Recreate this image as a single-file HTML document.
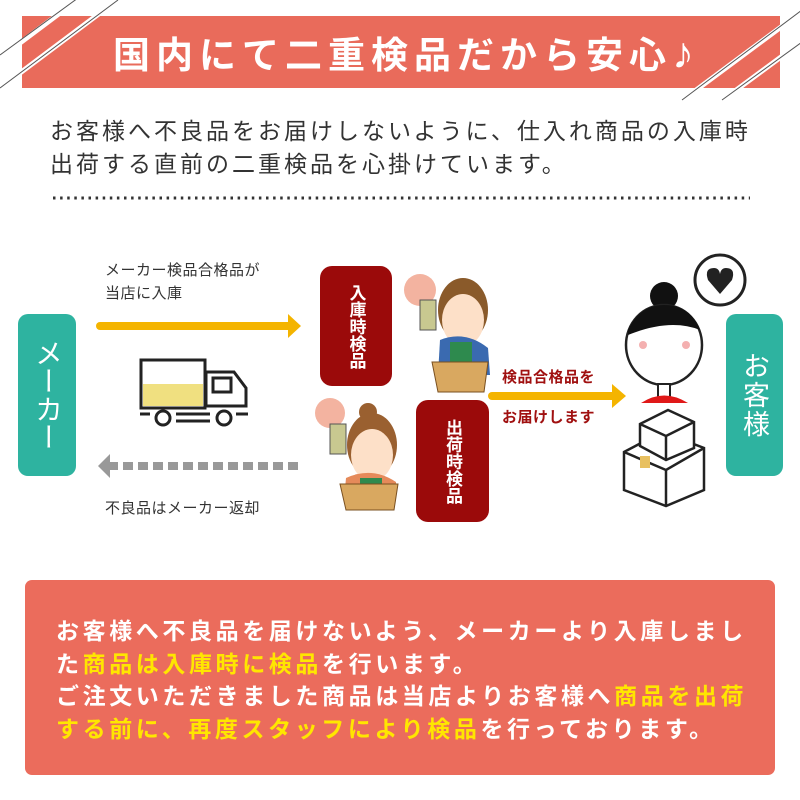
<!DOCTYPE html>
<html><head><meta charset="utf-8"><style>
*{margin:0;padding:0;box-sizing:border-box}
body{width:800px;height:800px;background:#fff;position:relative;overflow:hidden;font-family:"Liberation Sans","Noto Sans CJK JP",sans-serif}
.a{position:absolute;white-space:nowrap}
.vt{writing-mode:vertical-rl;text-orientation:upright;color:#fff;display:flex;align-items:center;justify-content:center}
.y{color:#ffe600}
</style></head><body>
<svg class="a" style="left:0;top:0" width="800" height="800">
<rect x="22" y="16" width="758" height="72" fill="#e96b5b"/>
<g stroke="#fff" stroke-width="5"><line x1="0" y1="58" x2="80" y2="-2"/><line x1="0" y1="88" x2="120" y2="-2"/><line x1="680" y1="102" x2="804" y2="10"/><line x1="720" y1="102" x2="804" y2="40"/></g>
<g stroke="#555" stroke-width="1"><line x1="0" y1="55" x2="78" y2="-2"/><line x1="0" y1="88" x2="118" y2="0"/><line x1="682" y1="100" x2="802" y2="10"/><line x1="722" y1="100" x2="802" y2="42"/></g>
<line x1="53" y1="198" x2="750" y2="198" stroke="#333" stroke-width="3" stroke-dasharray="2.5 4.6"/>
<rect x="18" y="314" width="58" height="162" rx="10" fill="#2eb3a0"/>
<rect x="726" y="314" width="57" height="162" rx="10" fill="#2eb3a0"/>
<line x1="100" y1="326" x2="290" y2="326" stroke="#f4b400" stroke-width="8" stroke-linecap="round"/>
<polygon points="288,314 301,326 288,338" fill="#f4b400"/>
<line x1="108" y1="466" x2="300" y2="466" stroke="#999" stroke-width="8" stroke-dasharray="10 5"/>
<polygon points="110,454 98,466 110,478" fill="#999"/>
<line x1="492" y1="396" x2="614" y2="396" stroke="#f4b400" stroke-width="8" stroke-linecap="round"/>
<polygon points="612,384 626,396 612,408" fill="#f4b400"/>
<rect x="320" y="266" width="72" height="120" rx="12" fill="#9b0a0a"/>
<rect x="416" y="400" width="73" height="122" rx="12" fill="#9b0a0a"/>
<!-- truck -->
<g stroke="#222" stroke-width="3" fill="#fff">
<rect x="141" y="360" width="64" height="48"/>
<rect x="143" y="384" width="60" height="22" fill="#f0e080" stroke="none"/>
<path d="M206 372 H234 L246 388 V406 H206 Z"/>
<rect x="213" y="378" width="18" height="14"/>
<circle cx="163" cy="418" r="7"/><circle cx="224" cy="418" r="7"/>
<line x1="176" y1="414" x2="210" y2="414"/><line x1="176" y1="421" x2="210" y2="421"/>
<line x1="140" y1="414" x2="150" y2="414"/><line x1="236" y1="414" x2="248" y2="414"/>
</g>
<!-- man -->
<circle cx="420" cy="290" r="16" fill="#f3b3a0"/>
<ellipse cx="463" cy="310" rx="25" ry="32" fill="#8a5a2a"/>
<ellipse cx="463" cy="320" rx="21" ry="26" fill="#fde0c8"/>
<path d="M440 340 Q465 330 488 348 L490 375 H438 Z" fill="#3a6ab0"/>
<rect x="450" y="342" width="22" height="30" fill="#2e8a4e"/>
<rect x="420" y="300" width="16" height="30" fill="#c8c890" stroke="#555"/>
<path d="M432 362 H488 L484 392 H438 Z" fill="#d9a860" stroke="#7a5020"/>
<!-- woman -->
<circle cx="330" cy="413" r="15" fill="#f3b3a0"/>
<ellipse cx="372" cy="445" rx="25" ry="32" fill="#9a6030"/>
<circle cx="368" cy="412" r="9" fill="#9a6030"/>
<ellipse cx="372" cy="455" rx="21" ry="26" fill="#fde0c8"/>
<path d="M346 478 Q372 466 396 482 L396 500 H344 Z" fill="#e58a5a"/>
<rect x="360" y="478" width="22" height="22" fill="#2e8a4e"/>
<rect x="330" y="424" width="16" height="30" fill="#c8c890" stroke="#555"/>
<path d="M340 484 H398 L394 510 H346 Z" fill="#d9a860" stroke="#7a5020"/>
<!-- customer -->
<circle cx="720" cy="280" r="25" fill="#fff" stroke="#222" stroke-width="3"/>
<path d="M720 294 L708 280 Q704 268 714 268 Q719 268 720 274 Q721 268 726 268 Q736 268 732 280 Z" fill="#222"/>
<circle cx="664" cy="296" r="14" fill="#111"/>
<ellipse cx="664" cy="345" rx="38" ry="40" fill="#fff" stroke="#222" stroke-width="2.5"/>
<path d="M628 330 Q640 305 664 305 Q690 305 700 330 Q670 318 628 335 Z" fill="#111"/>
<rect x="658" y="384" width="12" height="16" fill="#fff" stroke="#222" stroke-width="2"/>
<path d="M641 403 Q664 388 688 403 Z" fill="#e01818"/>
<circle cx="643" cy="345" r="4" fill="#f4b0b0"/><circle cx="686" cy="345" r="4" fill="#f4b0b0"/>
<g stroke="#222" stroke-width="2.5" fill="#fff">
<path d="M624 452 L662 432 L704 448 L704 490 L666 506 L624 490 Z"/>
<path d="M624 452 L666 470 L704 448 M666 470 V506"/>
<path d="M640 424 L668 410 L694 422 L694 448 L666 460 L640 446 Z"/>
<path d="M640 424 L666 436 L694 422 M666 436 V460"/>
</g>
<rect x="640" y="456" width="10" height="12" fill="#e8c060"/>
<rect x="25" y="580" width="750" height="195" rx="7" fill="#eb6c5c"/>
</svg>
<div class="a" style="left:113px;top:25px;font-size:37px;letter-spacing:6px;color:#fff;font-weight:bold">国内にて二重検品だから安心<span style="font-size:44px;line-height:37px">♪</span></div>
<div class="a" style="left:50px;top:115px;font-size:23px;letter-spacing:3px;color:#333;line-height:33px">お客様へ不良品をお届けしないように、仕入れ商品の入庫時<br>出荷する直前の二重検品を心掛けています。</div>
<div class="a" style="left:105px;top:259px;font-size:15px;color:#333;line-height:23px;letter-spacing:0.5px">メーカー検品合格品が<br>当店に入庫</div>
<div class="a" style="left:105px;top:497px;font-size:15px;color:#333;letter-spacing:0.5px">不良品はメーカー返却</div>
<div class="a" style="left:502px;top:366px;font-size:15px;color:#a01010;font-weight:bold;letter-spacing:0.5px">検品合格品を</div>
<div class="a" style="left:502px;top:406px;font-size:15px;color:#a01010;font-weight:bold;letter-spacing:0.5px">お届けします</div>
<div class="a vt" style="left:18px;top:314px;width:58px;height:162px;font-size:28px">メーカー</div>
<div class="a vt" style="left:726px;top:314px;width:57px;height:162px;font-size:27px;letter-spacing:2px">お客様</div>
<div class="a vt" style="left:320px;top:266px;width:72px;height:120px;font-size:17px;font-weight:bold">入庫時検品</div>
<div class="a vt" style="left:416px;top:400px;width:73px;height:122px;font-size:17px;font-weight:bold">出荷時検品</div>
<div class="a" style="left:56px;top:615px;font-size:23px;letter-spacing:3.6px;color:#fff;font-weight:bold;line-height:32.7px">お客様へ不良品を届けないよう、メーカーより入庫しまし<br>た<span class="y">商品は入庫時に検品</span>を行います。<br>ご注文いただきました商品は当店よりお客様へ<span class="y">商品を出荷</span><br><span class="y">する前に、再度スタッフにより検品</span>を行っております。</div>
</body></html>
